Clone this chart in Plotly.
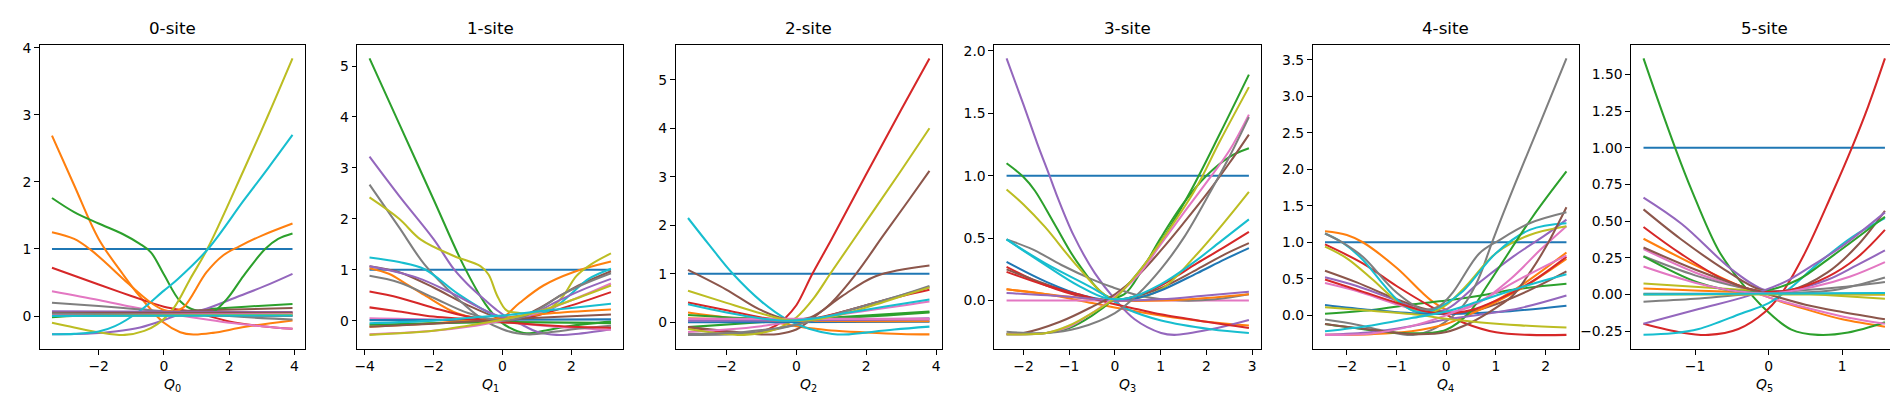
import plotly.graph_objects as go

COLORS = ["#1f77b4", "#ff7f0e", "#2ca02c", "#d62728", "#9467bd",
          "#8c564b", "#e377c2", "#7f7f7f", "#bcbd22", "#17becf"]

TITLES = ["0-site", "1-site", "2-site", "3-site", "4-site", "5-site"]
XLABELS = ["<i>Q</i><sub>%d</sub>" % i for i in range(6)]

# each panel: list of (Q values, curve values), index = curve number
SITE0 = [
    ([-3.43, 3.94], [1, 1]),
    ([-3.43, -2.75, -2, -1.25, -0.75, 0, 0.5, 0.9, 1.5, 2.5, 3.94],
     [2.69, 1.95, 1.15, 0.62, 0.3, -0.1, -0.24, -0.275, -0.25, -0.16, -0.065]),
    ([-3.43, -2.75, -2, -1.25, -0.75, -0.4, 0, 0.5, 0.94, 1.5, 2.5, 3.94],
     [1.76, 1.55, 1.38, 1.22, 1.08, 0.95, 0.62, 0.22, 0.09, 0.11, 0.14, 0.18]),
    ([-3.43, -2, -1, 0, 1, 2, 3, 3.94], [0.72, 0.47, 0.3, 0.14, 0.05, -0.08, -0.15, -0.19]),
    ([-3.43, -2.25, -1.5, -0.73, 0, 0.27, 1.3, 2.31, 3.1, 3.94],
     [-0.27, -0.26, -0.23, -0.17, -0.06, -0.01, 0.11, 0.30, 0.45, 0.63]),
    ([-3.43, -1.5, 0, 1.5, 3.94], [0.035, 0.05, 0.07, 0.09, 0.12]),
    ([-3.43, -2, -1, 0, 1, 2, 3, 3.94], [0.37, 0.24, 0.14, 0.05, -0.03, -0.1, -0.15, -0.19]),
    ([-3.43, -2, -1, 0, 1, 2, 3, 3.94], [0.2, 0.15, 0.11, 0.07, 0.03, 0.0, -0.03, -0.05]),
    ([-3.43, -2.75, -2, -1.2, -0.6, -0.2, 0.3, 0.8, 1.33, 2.44, 3.2, 3.94],
     [-0.10, -0.17, -0.24, -0.28, -0.22, -0.12, 0.12, 0.55, 1.0, 2.17, 3.0, 3.84]),
    ([-3.43, -2.75, -2, -1.5, -0.73, 0, 0.42, 1.35, 2.44, 3.2, 3.94],
     [-0.27, -0.265, -0.23, -0.15, 0.08, 0.38, 0.55, 1.0, 1.72, 2.21, 2.70]),
    ([-3.43, 3.94], [0.01, 0.01]),
    ([-3.43, -2.75, -2.25, -1.75, -1.24, -0.43, 0.0, 0.3, 0.6, 1.3, 1.8, 2.31, 3, 3.94],
     [1.25, 1.15, 0.99, 0.78, 0.55, 0.21, 0.09, 0.07, 0.13, 0.65, 0.9, 1.04, 1.2, 1.38]),
    ([-3.43, -2, -0.5, 0.5, 1.2, 1.5, 1.94, 2.44, 3.1, 3.5, 3.94],
     [-0.015, 0.02, 0.04, 0.05, 0.04, 0.06, 0.26, 0.6, 1.0, 1.15, 1.23]),
    ([-3.43, 3.94], [0.03, 0.05]),
    ([-3.43, 3.94], [0.07, 0.06]),
    ([-3.43, 3.94], [0.05, 0.05]),
    ([-3.43, 3.94], [0.02, 0.03]),
    ([-3.43, 3.94], [0.04, 0.0]),
    ([-3.43, 3.94], [0.0, 0.02]),
    ([-3.43, 3.94], [0.0, 0.01]),
]

SITE1 = [
    ([-3.86, 3.15], [1, 1]),
    ([-3.86, -3.3, -2.8, -2.26, -1.3, -0.34, 0, 0.5, 1.19, 2.05, 3.15],
     [1.03, 0.92, 0.72, 0.5, 0.14, 0.03, 0.06, 0.35, 0.69, 0.95, 1.16]),
    ([-3.86, -3, -2, -1.12, -0.5, -0.06, 0.33, 0.7, 1.2, 2, 3.15],
     [5.15, 3.87, 2.38, 1.07, 0.33, -0.02, -0.18, -0.25, -0.2, -0.1, -0.02]),
    ([-3.86, -3, -2, -1, 0, 0.5, 1, 2, 3.15], [0.57, 0.45, 0.25, 0.08, 0.0, 0.03, 0.1, 0.3, 0.56]),
    ([-3.86, -3, -2, -1.41, -1.02, -0.5, -0.15, 0.2, 0.62, 1.0, 1.57, 2.3, 3.15],
     [3.22, 2.45, 1.6, 1.01, 0.72, 0.4, 0.2, 0.04, -0.1, -0.22, -0.28, -0.25, -0.17]),
    ([-3.86, -3, -2, -1, 0, 0.5, 1, 1.7, 2.3, 3.15], [1.07, 0.95, 0.65, 0.3, 0.04, 0.07, 0.22, 0.5, 0.72, 0.97]),
    ([-3.86, -2, 0, 1.5, 3.15], [0.045, 0.02, -0.03, -0.12, -0.18]),
    ([-3.86, -3, -2.26, -1.3, -0.54, 0, 0.42, 0.8, 1.5, 2.3, 3.15],
     [2.67, 1.83, 1.1, 0.43, 0.01, -0.17, -0.25, -0.27, -0.22, -0.15, -0.10]),
    ([-3.86, -3, -2.37, -1.41, -0.64, -0.4, -0.16, 0.12, 0.5, 0.9, 1.19, 1.5, 1.77, 2.15, 2.56, 3.15],
     [2.42, 2.0, 1.59, 1.27, 1.07, 0.9, 0.5, 0.2, 0.15, 0.12, 0.16, 0.3, 0.49, 0.88, 1.1, 1.32]),
    ([-3.86, -3, -2.26, -1.3, -0.34, 0.04, 0.5, 1.19, 1.6, 2.05, 2.5, 3.15],
     [1.24, 1.15, 1.01, 0.53, 0.14, 0.06, 0.1, 0.15, 0.3, 0.56, 0.82, 1.02]),
    ([-3.86, 3.15], [0.01, 0.025]),
    ([-3.86, -2, 0, 1.5, 3.15], [-0.12, -0.05, 0.05, 0.15, 0.22]),
    ([-3.86, 0, 3.15], [-0.08, -0.03, -0.05]),
    ([-3.86, -3, -2, -1, 0, 1, 2, 3.15], [0.26, 0.18, 0.08, 0.03, -0.03, -0.08, -0.12, -0.14]),
    ([-3.86, -2.5, -1.5, -0.5, 0.2, 0.8, 1.5, 2.3, 3.15], [1.07, 0.85, 0.55, 0.2, 0.03, 0.1, 0.35, 0.6, 0.82]),
    ([-3.86, -2, 0, 1.5, 3.15], [-0.12, -0.06, 0.02, 0.07, 0.12]),
    ([-3.86, -2, -1, 0, 1, 2, 3.15], [-0.27, -0.2, -0.12, 0.0, 0.15, 0.4, 0.73]),
    ([-3.86, -3, -2, -1, 0, 0.5, 1, 1.7, 2.3, 3.15], [0.88, 0.75, 0.45, 0.15, 0.0, 0.05, 0.2, 0.5, 0.7, 0.93]),
    ([-3.86, -2, -1, 0, 1, 2, 3.15], [-0.28, -0.2, -0.1, 0.02, 0.17, 0.4, 0.69]),
    ([-3.86, -2, -0.5, 0, 1, 2, 3.15], [-0.05, 0.0, 0.08, 0.1, 0.18, 0.25, 0.33]),
]

SITE2 = [
    ([-3.1, 3.81], [1, 1]),
    ([-3.1, -2, -1, 0, 0.5, 1, 2, 3, 3.81], [0.2, 0.1, 0.05, -0.08, -0.13, -0.17, -0.21, -0.24, -0.25]),
    ([-3.1, 0, 3.81], [-0.1, 0.05, 0.22]),
    ([-3.1, -2, -1.2, -0.59, -0.3, 0, 0.46, 1, 2, 3, 3.81],
     [-0.1, -0.2, -0.22, -0.07, 0.1, 0.35, 1.0, 1.7, 3.05, 4.38, 5.44]),
    ([-3.1, 0, 3.81], [0.05, 0.04, 0.08]),
    ([-3.1, -2, -1, -0.5, 0, 0.5, 1, 1.71, 2.5, 3.2, 3.81],
     [-0.1, -0.18, -0.25, -0.24, -0.15, 0.1, 0.4, 1.0, 1.8, 2.5, 3.12]),
    ([-3.1, -2, -1, 0, 1, 2, 3, 3.81], [-0.2, -0.15, -0.08, 0.03, 0.13, 0.24, 0.34, 0.43]),
    ([-3.1, -2, -1, 0, 1, 2, 3, 3.81], [-0.26, -0.25, -0.2, -0.05, 0.15, 0.35, 0.56, 0.75]),
    ([-3.1, -2.2, -1.5, -1, -0.5, 0, 0.5, 0.97, 2, 3, 3.81],
     [-0.14, -0.23, -0.26, -0.22, -0.12, 0.1, 0.5, 1.0, 2.08, 3.13, 4.0]),
    ([-3.1, -2.5, -1.83, -0.97, -0.3, 0.36, 1.03, 1.5, 1.89, 2.8, 3.81],
     [2.15, 1.6, 1.01, 0.41, 0.07, -0.135, -0.24, -0.25, -0.22, -0.15, -0.09]),
    ([-3.1, 3.81], [0.0, 0.01]),
    ([-3.1, 0, 3.81], [0.08, 0.03, 0.02]),
    ([-3.1, 0, 3.81], [0.15, 0.06, 0.2]),
    ([-3.1, -2, -1, -0.3, 0.5, 1.5, 2.5, 3.81], [0.41, 0.25, 0.1, 0.04, 0.08, 0.25, 0.45, 0.67]),
    ([-3.1, 3.81], [0.03, 0.06]),
    ([-3.1, -2.02, -1.07, -0.3, 0.4, 1.31, 2.27, 3.81], [1.08, 0.68, 0.27, 0.07, 0.1, 0.54, 0.95, 1.17]),
    ([-3.1, 3.81], [0.07, 0.07]),
    ([-3.1, -1.5, 0, 1.5, 3.81], [-0.24, -0.2, -0.05, 0.25, 0.72]),
    ([-3.1, -2, -1, -0.3, 0.5, 1.5, 2.5, 3.81], [0.65, 0.4, 0.18, 0.05, 0.05, 0.2, 0.42, 0.72]),
    ([-3.1, -2, -1, -0.3, 0.5, 1.5, 2.5, 3.81], [0.37, 0.2, 0.08, 0.03, 0.08, 0.2, 0.32, 0.47]),
]

SITE3 = [
    ([-2.37, 2.93], [1, 1]),
    ([-2.37, -1.5, -0.5, 0.2, 1, 2, 2.93], [0.09, 0.05, -0.02, -0.07, -0.12, -0.17, -0.2]),
    ([-2.37, -2.0, -1.75, -1.3, -0.81, -0.15, 0.2, 0.6, 1.0, 1.5, 2.0, 2.5, 2.93],
     [1.10, 0.99, 0.88, 0.6, 0.30, 0.03, 0.05, 0.25, 0.5, 0.78, 1.0, 1.15, 1.22]),
    ([-2.37, -1.5, -0.7, 0, 0.5, 1, 1.8, 2.4, 2.93], [0.27, 0.12, 0.03, 0.0, 0.04, 0.12, 0.3, 0.43, 0.55]),
    ([-2.37, -2, -1.7, -1.43, -1.31, -0.9, -0.44, 0, 0.43, 1.01, 1.3, 2.1, 2.93],
     [1.94, 1.57, 1.26, 1.0, 0.88, 0.52, 0.22, 0.01, -0.15, -0.26, -0.275, -0.23, -0.155]),
    ([-2.37, -1.8, -1, -0.3, 0.3, 1, 1.8, 2.4, 2.93], [0.25, 0.17, 0.07, 0.0, 0.02, 0.1, 0.25, 0.37, 0.46]),
    ([-2.37, 2.93], [0.0, 0.0]),
    ([-2.37, -1.8, -1.17, -0.5, -0.08, 0.65, 1.45, 2.2, 2.93],
     [0.49, 0.41, 0.285, 0.17, 0.11, 0.03, 0.0, 0.01, 0.05]),
    ([-2.37, -2, -1.53, -0.81, -0.15, 0.3, 1.01, 1.74, 2.4, 2.93],
     [0.89, 0.77, 0.59, 0.27, 0.03, 0.01, 0.09, 0.35, 0.63, 0.87]),
    ([-2.37, -1.53, -0.44, 0.28, 1.01, 2.1, 2.93], [0.49, 0.3, 0.09, -0.07, -0.16, -0.23, -0.26]),
    ([-2.37, -1.5, -0.7, 0, 0.5, 1, 1.8, 2.4, 2.93], [0.31, 0.15, 0.04, 0.0, 0.02, 0.08, 0.22, 0.33, 0.42]),
    ([-2.37, -1, 0, 1, 2, 2.93], [0.09, 0.03, 0.0, 0.0, 0.02, 0.05]),
    ([-2.37, -1.5, -1, -0.5, 0, 0.5, 1.0, 1.66, 2.3, 2.93],
     [-0.27, -0.26, -0.22, -0.12, 0.02, 0.22, 0.47, 0.88, 1.34, 1.81]),
    ([-2.37, -1.5, -0.8, 0, 0.5, 1, 2, 2.93], [0.23, 0.12, 0.05, -0.03, -0.07, -0.11, -0.17, -0.22]),
    ([-2.37, -1, 0, 1, 2, 2.93], [0.06, 0.03, 0.0, 0.01, 0.04, 0.07]),
    ([-2.37, -2, -1.2, -0.5, 0, 0.5, 1, 1.5, 2, 2.5, 2.93],
     [-0.27, -0.26, -0.17, -0.05, 0.05, 0.2, 0.4, 0.62, 0.85, 1.1, 1.33]),
    ([-2.37, -1.5, -1, -0.5, 0, 0.5, 1, 1.5, 1.95, 2.5, 2.93],
     [-0.27, -0.26, -0.21, -0.1, 0.03, 0.2, 0.45, 0.7, 0.92, 1.2, 1.49]),
    ([-2.37, -1.5, -0.8, 0, 0.5, 1, 1.5, 2.1, 2.5, 2.93],
     [-0.25, -0.26, -0.22, -0.1, 0.05, 0.25, 0.5, 0.88, 1.15, 1.47]),
    ([-2.37, -1.5, -1, -0.5, 0, 0.5, 1.0, 1.74, 2.3, 2.93],
     [-0.27, -0.26, -0.2, -0.1, 0.02, 0.22, 0.47, 0.88, 1.28, 1.71]),
    ([-2.37, -1.5, -0.8, -0.2, 0.3, 1, 1.7, 2.3, 2.93], [0.49, 0.28, 0.12, 0.02, 0.02, 0.13, 0.3, 0.47, 0.65]),
]

SITE4 = [
    ([-2.44, 2.42], [1, 1]),
    ([-2.44, -2.0, -1.68, -1.0, -0.3, 0.1, 0.5, 1.0, 1.6, 2.42],
     [1.15, 1.1, 1.0, 0.65, 0.2, 0.05, 0.05, 0.2, 0.45, 0.86]),
    ([-2.44, -1.5, -0.67, 0, 0.7, 1.34, 2.42], [0.02, 0.07, 0.15, 0.2, 0.27, 0.35, 0.43]),
    ([-2.44, -1.68, -1.0, -0.34, 0.34, 1.0, 1.68, 2.42], [0.97, 0.71, 0.40, 0.13, -0.10, -0.235, -0.27, -0.27]),
    ([-2.44, -1.8, -1, -0.4, 0, 0.67, 1.34, 2.0, 2.42], [0.52, 0.4, 0.2, 0.05, 0.08, 0.45, 0.8, 1.1, 1.31]),
    ([-2.44, -1.8, -1, -0.4, 0, 0.5, 1, 1.7, 2.42], [0.61, 0.45, 0.22, 0.08, 0.04, 0.05, 0.15, 0.35, 0.6]),
    ([-2.44, -1.8, -1, -0.4, 0, 0.6, 1.3, 1.9, 2.42], [0.44, 0.33, 0.15, 0.04, 0.03, 0.15, 0.5, 0.9, 1.22]),
    ([-2.44, -1.8, -1.2, -0.67, -0.2, 0.34, 0.65, 0.94, 1.41, 1.9, 2.42],
     [-0.06, -0.13, -0.22, -0.27, -0.17, 0.13, 0.5, 1.03, 1.84, 2.65, 3.52]),
    ([-2.44, -2.0, -1.5, -1.0, -0.6, -0.3, 0, 0.4, 1.0, 1.68, 2.42],
     [0.94, 0.78, 0.5, 0.2, 0.05, 0.04, 0.14, 0.4, 0.85, 1.1, 1.22]),
    ([-2.44, -2.1, -1.68, -1.3, -1.0, -0.67, -0.35, 0, 0.34, 1.0, 1.68, 2.42],
     [1.12, 1.0, 0.76, 0.45, 0.22, 0.06, 0.05, 0.16, 0.33, 0.85, 1.17, 1.26]),
    ([-2.44, -1.5, -0.5, 0.3, 1.2, 2.42], [0.14, 0.07, 0.02, 0.02, 0.05, 0.13]),
    ([-2.44, -1.5, -0.7, 0, 0.5, 1, 1.6, 2.42], [-0.27, -0.26, -0.22, -0.12, 0.02, 0.18, 0.4, 0.77]),
    ([-2.44, -1.8, -1.0, -0.3, 0, 0.47, 0.8, 1.07, 1.74, 2.42],
     [-0.12, -0.18, -0.24, -0.24, -0.2, 0.04, 0.38, 0.66, 1.35, 1.97]),
    ([-2.44, -1.8, -1, -0.4, 0, 0.5, 1, 1.7, 2.42], [0.49, 0.35, 0.17, 0.05, 0.02, 0.07, 0.2, 0.45, 0.8]),
    ([-2.44, -1.5, -0.7, 0, 0.7, 1.5, 2.42], [-0.27, -0.23, -0.15, -0.06, 0.01, 0.1, 0.27]),
    ([-2.44, -1.5, -0.6, 0, 0.5, 1.0, 1.34, 1.7, 2.01, 2.42],
     [-0.12, -0.2, -0.26, -0.23, -0.1, 0.1, 0.27, 0.6, 0.94, 1.48]),
    ([-2.44, -1.5, -0.7, 0, 0.7, 1.5, 2.42], [-0.27, -0.25, -0.15, 0.0, 0.2, 0.5, 0.82]),
    ([-2.44, -2.1, -1.68, -1.0, -0.47, -0.15, 0.13, 0.67, 1.07, 1.68, 2.42],
     [1.12, 1.0, 0.8, 0.31, 0.08, 0.12, 0.31, 0.85, 1.03, 1.26, 1.41]),
    ([-2.44, -1.5, -0.5, 0, 0.7, 1.5, 2.42], [0.11, 0.06, 0.0, -0.05, -0.1, -0.14, -0.17]),
    ([-2.44, -1.5, -0.7, 0, 0.7, 1.5, 2.42], [-0.22, -0.14, -0.04, 0.05, 0.2, 0.38, 0.56]),
]

SITE5 = [
    ([-1.70, 1.58], [1, 1]),
    ([-1.70, -1.0, -0.4, 0, 0.5, 1.0, 1.58], [0.38, 0.2, 0.06, -0.02, -0.1, -0.17, -0.22]),
    ([-1.70, -1.5, -1.27, -1.045, -0.68, -0.37, -0.05, 0.31, 0.67, 1.08, 1.58],
     [1.61, 1.32, 1.0, 0.71, 0.30, 0.08, -0.10, -0.24, -0.276, -0.26, -0.19]),
    ([-1.70, -1.18, -0.82, -0.41, -0.05, 0.18, 0.49, 0.855, 1.13, 1.35, 1.58],
     [-0.2, -0.26, -0.276, -0.236, -0.12, 0.01, 0.28, 0.68, 1.0, 1.28, 1.61]),
    ([-1.70, -1.18, -0.5, -0.05, 0.3, 0.8, 1.2, 1.58], [0.66, 0.48, 0.17, 0.03, 0.03, 0.1, 0.2, 0.30]),
    ([-1.70, -1.2, -0.6, -0.1, 0.3, 0.8, 1.2, 1.58], [0.58, 0.38, 0.17, 0.03, 0.03, 0.15, 0.33, 0.57]),
    ([-1.70, -1.0, -0.4, 0, 0.5, 1.0, 1.58], [0.31, 0.15, 0.05, -0.02, -0.09, -0.15, -0.2]),
    ([-1.70, -1.0, -0.4, 0, 0.5, 1.0, 1.58], [0.26, 0.13, 0.05, 0.02, 0.03, 0.05, 0.085]),
    ([-1.70, 0, 1.58], [0.075, 0.02, -0.03]),
    ([-1.70, -1.3, -0.95, -0.37, 0, 0.31, 0.67, 1.13, 1.58],
     [-0.275, -0.265, -0.236, -0.13, -0.06, 0.05, 0.21, 0.39, 0.52]),
    ([-1.70, 1.58], [0.005, 0.005]),
    ([-1.70, 0, 1.58], [0.04, 0.01, 0.0]),
    ([-1.70, -0.95, -0.37, 0.0, 0.4, 0.86, 1.58], [0.26, 0.08, 0.02, 0.03, 0.1, 0.26, 0.53]),
    ([-1.70, -1.2, -0.6, -0.1, 0.3, 0.8, 1.2, 1.58], [0.46, 0.28, 0.1, 0.02, 0.03, 0.12, 0.25, 0.44]),
    ([-1.70, -0.95, -0.28, 0.2, 0.6, 1.0, 1.58], [-0.2, -0.1, -0.01, 0.08, 0.2, 0.33, 0.56]),
    ([-1.70, -1.0, -0.4, 0, 0.5, 1.0, 1.58], [0.32, 0.17, 0.06, 0.0, -0.07, -0.12, -0.17]),
    ([-1.70, -1.0, -0.4, 0.1, 0.6, 1.1, 1.58], [0.19, 0.08, 0.02, 0.01, 0.05, 0.12, 0.22]),
    ([-1.70, -1.0, -0.3, 0.3, 0.9, 1.58], [-0.05, -0.03, 0.0, 0.01, 0.03, 0.115]),
    ([-1.70, 1.58], [0.0, 0.0]),
    ([-1.70, 1.58], [0.0, 0.01]),
]

PANELS = [SITE0, SITE1, SITE2, SITE3, SITE4, SITE5]

XTICKS = [[-2, 0, 2, 4], [-4, -2, 0, 2], [-2, 0, 2, 4], [-2, -1, 0, 1, 2, 3],
          [-2, -1, 0, 1, 2], [-1, 0, 1]]
YTICKS = [[0, 1, 2, 3, 4], [0, 1, 2, 3, 4, 5], [0, 1, 2, 3, 4, 5],
          [0.0, 0.5, 1.0, 1.5, 2.0], [0.0, 0.5, 1.0, 1.5, 2.0, 2.5, 3.0, 3.5],
          [-0.25, 0.0, 0.25, 0.5, 0.75, 1.0, 1.25, 1.5]]
YDECIMALS = [0, 0, 0, 1, 1, 2]

W, H = 1898, 396
X_PX = [(29, 294), (347, 613), (666, 932), (985, 1252), (1304, 1570), (1623, 1889)]
Y_DOM = [1 - 340 / H, 1 - 32 / H]

FONT = "DejaVu Sans"


def fmt(v, d):
    s = f"{v:.{d}f}"
    return s.replace("-", "\u2212")


fig = go.Figure()
layout = dict(width=W, height=H, autosize=False,
              margin=dict(l=0, r=0, t=0, b=0, pad=0),
              paper_bgcolor="white", plot_bgcolor="white",
              showlegend=False, font=dict(family=FONT, size=13.9, color="black"))
annotations = []

for p, lines in enumerate(PANELS):
    sfx = "" if p == 0 else str(p + 1)
    xs_all = [v for xs, _ in lines for v in xs]
    ys_all = [v for _, ys in lines for v in ys]
    xlo, xhi = min(xs_all), max(xs_all)
    ylo, yhi = min(ys_all), max(ys_all)
    xp = 0.05 * (xhi - xlo)
    yp = 0.05 * (yhi - ylo)
    for i, (xs, ys) in enumerate(lines):
        fig.add_trace(go.Scatter(
            x=xs, y=ys, mode="lines", xaxis="x" + sfx, yaxis="y" + sfx,
            line=dict(color=COLORS[i % 10], width=2.05, shape="spline", smoothing=1.0),
            hoverinfo="skip"))
    dom = [X_PX[p][0] / W, X_PX[p][1] / W]
    axcommon = dict(showgrid=False, zeroline=False, showline=True, mirror=True,
                    linecolor="black", linewidth=1.1, ticks="outside", ticklen=4.9,
                    tickwidth=1.1, tickcolor="black",
                    tickfont=dict(family=FONT, size=13.9, color="black"))
    layout["xaxis" + sfx] = dict(domain=dom, range=[xlo - xp, xhi + xp],
                                 anchor="y" + sfx, tickmode="array",
                                 tickvals=XTICKS[p],
                                 ticktext=[fmt(v, 0) for v in XTICKS[p]], **axcommon)
    layout["yaxis" + sfx] = dict(domain=Y_DOM, range=[ylo - yp, yhi + yp],
                                 anchor="x" + sfx, tickmode="array",
                                 tickvals=YTICKS[p],
                                 ticktext=[fmt(v, YDECIMALS[p]) for v in YTICKS[p]], **axcommon)
    cx = (dom[0] + dom[1]) / 2
    annotations.append(dict(text=TITLES[p], x=cx, y=Y_DOM[1], xref="paper", yref="paper",
                            xanchor="center", yanchor="bottom", yshift=5, showarrow=False,
                            font=dict(family=FONT, size=16.7, color="black")))
    annotations.append(dict(text=XLABELS[p], x=cx, y=1 - 377 / H, xref="paper", yref="paper",
                            xanchor="center", yanchor="middle", showarrow=False,
                            font=dict(family=FONT, size=13.9, color="black")))

layout["annotations"] = annotations
fig.update_layout(**layout)
fig.write_html("out.html")
